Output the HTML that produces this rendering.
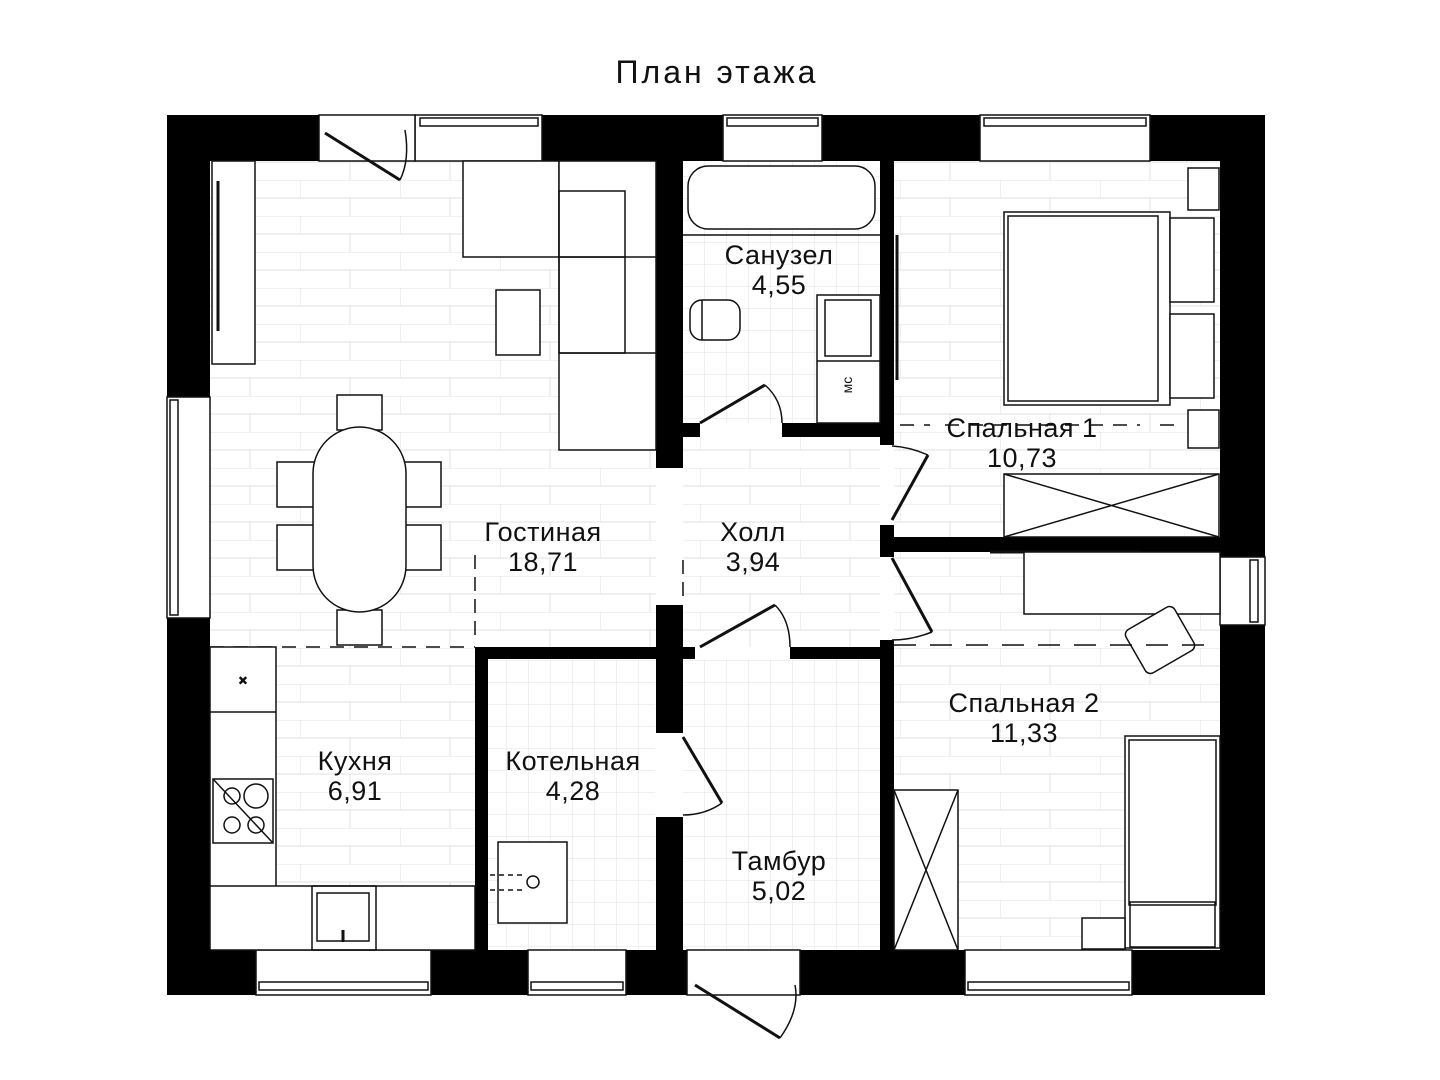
<!DOCTYPE html>
<html><head><meta charset="utf-8"><style>
html,body{margin:0;padding:0;background:#fff;}
svg{display:block;}
text{font-family:"Liberation Sans","DejaVu Sans",sans-serif;fill:#111;}
</style></head><body>
<svg width="1440" height="1080" viewBox="0 0 1440 1080" xmlns="http://www.w3.org/2000/svg">
<defs>
<pattern id="brick" width="100" height="36" patternUnits="userSpaceOnUse">
<path d="M0 0H100M0 18H100M0 0V18M50 18V36" stroke="#e2e2e2" stroke-width="1" fill="none"/>
</pattern>
<pattern id="sq" width="22" height="22" patternUnits="userSpaceOnUse">
<path d="M0 0H22M0 0V22" stroke="#e2e2e2" stroke-width="1" fill="none"/>
</pattern>
</defs>
<text x="717" y="83" font-size="32" text-anchor="middle" letter-spacing="3">План  этажа</text>

<!-- floors -->
<rect x="210" y="160" width="446" height="487" fill="url(#brick)"/>
<rect x="683" y="437" width="197" height="210" fill="url(#brick)"/>
<rect x="276" y="647" width="199" height="240" fill="url(#brick)"/>
<rect x="488" y="659" width="167" height="291" fill="url(#sq)"/>
<rect x="683" y="659" width="197" height="291" fill="url(#sq)"/>
<rect x="683" y="160" width="197" height="263" fill="url(#sq)"/>
<rect x="894" y="160" width="326" height="377" fill="url(#brick)"/>
<rect x="894" y="552" width="326" height="398" fill="url(#brick)"/>

<g fill="#000">
<rect x="167" y="115" width="152" height="46"/>
<rect x="542" y="115" width="181" height="46"/>
<rect x="822" y="115" width="158" height="46"/>
<rect x="1150" y="115" width="115" height="46"/>
<rect x="167" y="115" width="43" height="282"/>
<rect x="167" y="618" width="43" height="377"/>
<rect x="1220" y="115" width="45" height="442"/>
<rect x="1220" y="625" width="45" height="370"/>
<rect x="167" y="950" width="89" height="45"/>
<rect x="431" y="950" width="97" height="45"/>
<rect x="626" y="950" width="61" height="45"/>
<rect x="800" y="950" width="165" height="45"/>
<rect x="1132" y="950" width="133" height="45"/>
<rect x="656" y="160" width="27" height="308"/>
<rect x="683" y="423" width="17" height="14"/>
<rect x="782" y="423" width="98" height="14"/>
<rect x="880" y="160" width="14" height="285"/>
<rect x="880" y="525" width="14" height="32"/>
<rect x="880" y="537" width="340" height="15"/>
<rect x="880" y="640" width="14" height="310"/>
<rect x="656" y="605" width="27" height="128"/>
<rect x="656" y="817" width="27" height="133"/>
<rect x="475" y="647" width="220" height="12"/>
<rect x="790" y="647" width="104" height="12"/>
<rect x="475" y="647" width="13" height="303"/>
</g>

<g fill="none" stroke="#111" stroke-width="1.5">
<rect x="415" y="115" width="127" height="46" fill="#fff"/>
<rect x="420" y="118" width="118" height="8"/>
<rect x="723" y="115" width="99" height="46" fill="#fff"/>
<rect x="727" y="118" width="91" height="8"/>
<rect x="980" y="115" width="170" height="46" fill="#fff"/>
<rect x="984" y="118" width="162" height="8"/>
<rect x="319" y="115" width="96" height="46" fill="#fff"/>
<line x1="325" y1="133" x2="400" y2="180" stroke-width="3"/>
<path d="M400 180 Q410 160 405 130"/>
<rect x="167" y="397" width="43" height="221" fill="#fff"/>
<rect x="170" y="400" width="8" height="215"/>
<rect x="1220" y="557" width="45" height="68" fill="#fff"/>
<rect x="1250" y="560" width="8" height="62"/>
<rect x="256" y="950" width="175" height="45" fill="#fff"/>
<rect x="259" y="982" width="169" height="8"/>
<rect x="528" y="950" width="98" height="45" fill="#fff"/>
<rect x="531" y="982" width="92" height="8"/>
<rect x="965" y="950" width="167" height="45" fill="#fff"/>
<rect x="968" y="982" width="161" height="8"/>
<rect x="687" y="950" width="113" height="45" fill="#fff"/>
<line x1="695" y1="985" x2="780" y2="1038" stroke-width="3"/>
<path d="M780 1038 Q800 1010 795 985"/>
<line x1="700" y1="423" x2="765" y2="385" stroke-width="3"/>
<path d="M765 385 Q782 400 782 423"/>
<line x1="700" y1="647" x2="775" y2="605" stroke-width="3"/>
<path d="M775 605 Q790 620 790 647"/>
<line x1="683" y1="737" x2="722" y2="803" stroke-width="3"/>
<path d="M722 803 Q705 815 683 815"/>
<line x1="892" y1="520" x2="928" y2="455" stroke-width="3"/>
<path d="M928 455 Q910 447 892 446"/>
<line x1="892" y1="558" x2="932" y2="632" stroke-width="3"/>
<path d="M932 632 Q912 640 892 640"/>

<rect x="212" y="161" width="43" height="203" fill="#fff"/>
<line x1="218" y1="181" x2="218" y2="331" stroke-width="3"/>
<rect x="463" y="161" width="96" height="96" fill="#fff"/>
<rect x="559" y="161" width="97" height="289" fill="#fff"/>
<rect x="559" y="191" width="66" height="66"/>
<rect x="559" y="257" width="66" height="96"/>
<line x1="559" y1="353" x2="656" y2="353"/>
<line x1="625" y1="257" x2="656" y2="257"/>
<rect x="496" y="290" width="44" height="65" fill="#fff"/>
<rect x="337" y="395" width="45" height="35" fill="#fff"/>
<rect x="337" y="610" width="45" height="35" fill="#fff"/>
<rect x="277" y="462" width="38" height="45" fill="#fff"/>
<rect x="277" y="525" width="38" height="45" fill="#fff"/>
<rect x="404" y="462" width="37" height="45" fill="#fff"/>
<rect x="404" y="525" width="37" height="45" fill="#fff"/>
<rect x="313" y="427" width="93" height="185" rx="46.5" fill="#fff"/>

<rect x="688" y="166" width="187" height="63" rx="20" fill="#fff"/>
<line x1="683" y1="235" x2="880" y2="235"/>
<rect x="690" y="300" width="50" height="40" rx="12" fill="#fff"/>
<line x1="702" y1="300" x2="702" y2="340"/>
<rect x="817" y="295" width="63" height="128" fill="#fff"/>
<rect x="825" y="300" width="46" height="56"/>
<line x1="817" y1="361" x2="880" y2="361"/>
<line x1="897" y1="235" x2="897" y2="380" stroke-width="3"/>

<rect x="1188" y="168" width="31" height="42" fill="#fff"/>
<rect x="1188" y="410" width="31" height="38" fill="#fff"/>
<rect x="1004" y="212" width="166" height="193" fill="#fff"/>
<rect x="1008" y="216" width="150" height="185"/>
<rect x="1170" y="218" width="44" height="84" fill="#fff"/>
<rect x="1170" y="314" width="44" height="84" fill="#fff"/>
<rect x="1004" y="474" width="215" height="63" fill="#fff"/>
<path d="M1004 474L1219 537M1004 537L1219 474"/>
<path d="M900 425H930M945 425H1140M1160 425H1175" stroke-dasharray="14 10"/>

<line x1="990" y1="552" x2="1140" y2="552" stroke-width="3"/>
<rect x="1024" y="552" width="196" height="62" fill="#fff"/>
<g transform="rotate(-30 1160 640)"><rect x="1132" y="615" width="56" height="50" rx="6" fill="#fff"/></g>
<rect x="1125" y="736" width="95" height="212" fill="#fff"/>
<rect x="1129" y="740" width="87" height="165"/>
<rect x="1130" y="902" width="85" height="45"/>
<rect x="1082" y="918" width="43" height="31" fill="#fff"/>
<rect x="894" y="790" width="64" height="160" fill="#fff"/>
<path d="M894 790L958 950M958 790L894 950"/>
<path d="M894 645H1215" stroke-dasharray="22 14"/>

<path d="M210 647H475" stroke-dasharray="14 10"/>
<path d="M475 555V640M683 560V600" stroke-dasharray="14 8"/>
<rect x="210" y="647" width="66" height="240" fill="#fff"/>
<rect x="210" y="886" width="265" height="64" fill="#fff"/>
<line x1="210" y1="712" x2="276" y2="712"/>
<text x="243" y="685" font-size="14" text-anchor="middle">×</text>
<rect x="213" y="779" width="60" height="64"/>
<circle cx="232" cy="796" r="8"/><circle cx="256" cy="796" r="12"/>
<circle cx="232" cy="825" r="8"/><circle cx="256" cy="825" r="8"/>
<line x1="213" y1="779" x2="273" y2="843"/>
<rect x="312" y="886" width="64" height="64"/>
<rect x="317" y="893" width="52" height="48"/>
<line x1="343" y1="930" x2="343" y2="942" stroke-width="3"/>
<rect x="498" y="842" width="69" height="81" fill="#fff"/>
<circle cx="533" cy="882" r="6"/>
<path d="M490 875H525M490 890H525" stroke-dasharray="5 4"/>
</g>

<text x="852" y="385" font-size="14" transform="rotate(-90 852 385)" text-anchor="middle">мс</text>

<g font-size="27" text-anchor="middle" letter-spacing="0.5">
<text x="779" y="264">Санузел</text><text x="779" y="294">4,55</text>
<text x="1022" y="437">Спальная 1</text><text x="1022" y="467">10,73</text>
<text x="543" y="541">Гостиная</text><text x="543" y="571">18,71</text>
<text x="753" y="541">Холл</text><text x="753" y="571">3,94</text>
<text x="1024" y="712">Спальная 2</text><text x="1024" y="742">11,33</text>
<text x="355" y="770">Кухня</text><text x="355" y="800">6,91</text>
<text x="573" y="770">Котельная</text><text x="573" y="800">4,28</text>
<text x="779" y="870">Тамбур</text><text x="779" y="900">5,02</text>
</g>
</svg>
</body></html>
